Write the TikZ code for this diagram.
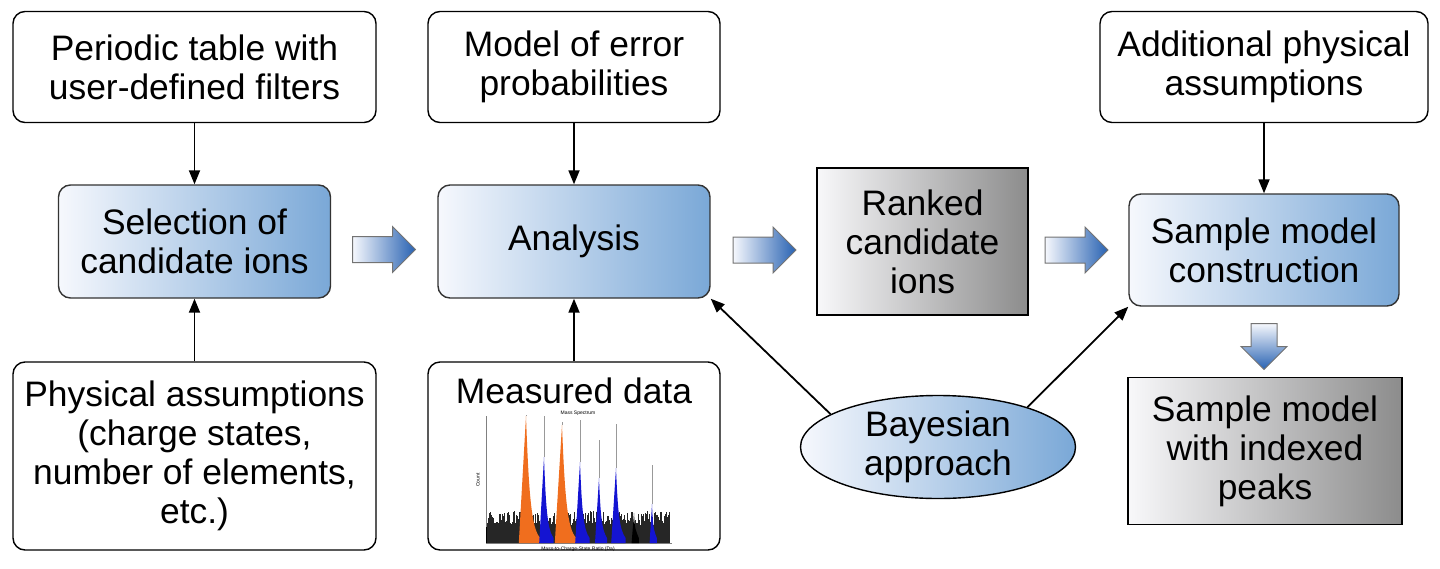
\documentclass[tikz,border=0pt]{standalone}
\usepackage{fontspec}
\setmainfont{Liberation Sans}
\usetikzlibrary{shapes.geometric,shapes.arrows,arrows.meta}
\definecolor{bl}{RGB}{122,168,215}
\definecolor{bll}{RGB}{246,248,253}
\definecolor{gr}{RGB}{140,140,140}
\definecolor{grm}{RGB}{206,206,208}
\definecolor{grl}{RGB}{248,248,250}
\definecolor{blk}{RGB}{40,98,178}
\definecolor{pkor}{RGB}{240,110,30}
\definecolor{pkbl}{RGB}{20,20,210}
\begin{document}
\begin{tikzpicture}[x=0.5pt,y=-0.5pt,
 every node/.style={font=\fontsize{17.7}{19.5}\selectfont, align=center, inner sep=0pt},
 box/.style={draw, rounded corners=6pt, line width=0.7pt},
 bbox/.style={box, draw=black!80, left color=bll, right color=bl},
 gbox/.style={draw, line width=0.7pt, left color=grl, middle color=grm, right color=gr},
 arr/.style={-{Triangle[length=7pt,width=5.5pt]}, line width=0.9pt},
 blockr/.style={single arrow, draw=black!55, line width=0.5pt, inner sep=6.25pt, minimum width=22.5pt, single arrow head extend=5pt, minimum height=31.5pt, left color=bll, right color=blk},
 blockd/.style={single arrow, shape border rotate=270, draw=black!55, line width=0.5pt, inner sep=6.25pt, minimum width=22.5pt, single arrow head extend=5pt, minimum height=23pt, top color=bll, bottom color=blk},
 tiny/.style={font=\fontsize{2.5}{3}\selectfont}]
\useasboundingbox (0,0) rectangle (1440,568);
\node[box, minimum width=181.5pt, minimum height=55.5pt] (pt) at (194.5,67) {Periodic table with\\user-defined filters};
\node[box, minimum width=146pt, minimum height=55.5pt] (err) at (574,67) {Model of error\\probabilities};
\node[box, minimum width=164pt, minimum height=55.5pt] (add) at (1264,67) {Additional physical\\assumptions};
\node[bbox, minimum width=136pt, minimum height=56.5pt] (sel) at (194.5,241.5) {Selection of\\candidate ions};
\node[bbox, minimum width=136pt, minimum height=56.5pt] (ana) at (574,241.5) {Analysis};
\node[gbox, minimum width=105.5pt, minimum height=73.5pt] (rank) at (922.5,241.5) {Ranked\\candidate\\ions};
\node[bbox, minimum width=135pt, minimum height=56pt] (smc) at (1264,250) {Sample model\\construction};
\node[box, minimum width=181.5pt, minimum height=94pt] (phys) at (194.5,456) {Physical assumptions\\(charge states,\\number of elements,\\etc.)};
\node[box, minimum width=146pt, minimum height=94pt] (meas) at (574,456) {};
\node (meast) at (574,391) {Measured data};
\node[ellipse, draw, line width=0.7pt, left color=bll, right color=bl, minimum width=137.5pt, minimum height=51.5pt] (bay) at (938,447) {Bayesian\\approach};
\node[gbox, minimum width=137pt, minimum height=73.5pt] (smi) at (1265,451) {Sample model\\with indexed\\peaks};
\node[blockr] (a1) at (377.5,249.5) {};
\node[blockr] (a2) at (758,250) {};
\node[blockr] (a3) at (1070,250) {};
\node[blockd] (a4) at (1264,340) {};
\draw[arr] (pt) -- (sel);
\draw[arr] (phys) -- (sel);
\draw[arr] (err) -- (ana);
\draw[arr] (meas) -- (ana);
\draw[arr] (add) -- (smc);
\draw[arr] (bay.163) -- (ana.south east);
\draw[arr] (bay.24) -- (smc.south west);
\node[tiny] (spt) at (578,413) {Mass Spectrum};
\node[tiny] (spx) at (578,549) {Mass-to-Charge-State Ratio (Da)};
\node[tiny, rotate=90] (spy) at (478,480) {Count};
\draw[black!50, line width=0.3pt] (486,416) -- (486,543) -- (672,543);
\pgfmathsetseed{7}
\fill (486,527) rectangle (670,543);
\foreach \i in {487,488,...,669}
  \draw[line width=0.35pt, black!85] (\i,543) -- (\i,{525-14*rnd});
\foreach \px/\py/\ly in {526/415/416, 544/457/416, 562/425/422, 580/462/420, 599/478/440, 616/468/424, 652/504/465}
  \draw[black!40, line width=0.3pt] (\px,\py) -- (\px,\ly);
\foreach \px/\py/\c/\w in {526/416/pkor/9, 562/425/pkor/9, 544/457/pkbl/6, 580/462/pkbl/6, 599/478/pkbl/5, 616/468/pkbl/6, 652/504/pkbl/3, 634/513/black/3}
  \fill[\c] ({\px-0.8*\w},543) -- (\px,\py) .. controls ({\px+0.3*\w},{\py+0.6*(543-\py)}) and ({\px+0.6*\w},530) .. ({\px+1.6*\w},538) -- ({\px+1.6*\w},543) -- cycle;
\end{tikzpicture}
\end{document}
